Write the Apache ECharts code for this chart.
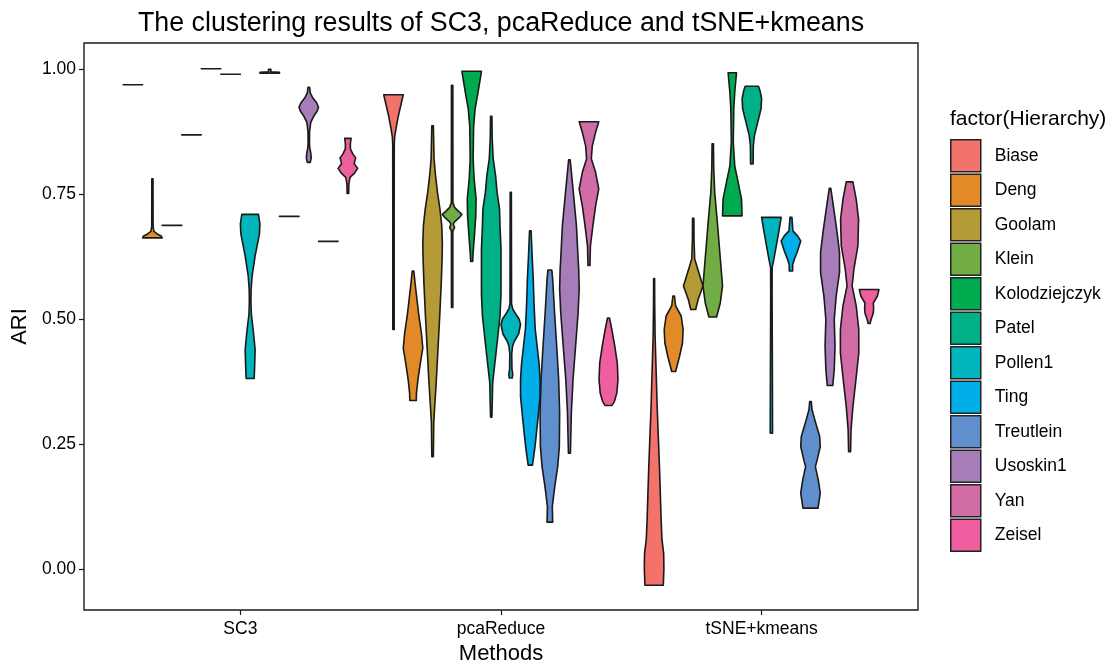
<!DOCTYPE html>
<html>
<head>
<meta charset="utf-8">
<script src="https://cdn.jsdelivr.net/npm/echarts@6/dist/echarts.min.js"></script>
<style>
  html, body { margin: 0; padding: 0; background: #fff; }
  #chart { width: 1113px; height: 665px; }
</style>
</head>
<body>
<div id="chart"></div>
<script>
// categories
var methods = ['SC3', 'pcaReduce', 'tSNE+kmeans'];
var hierarchies = ['Biase', 'Deng', 'Goolam', 'Klein', 'Kolodziejczyk', 'Patel',
  'Pollen1', 'Ting', 'Treutlein', 'Usoskin1', 'Yan', 'Zeisel'];
var colors = ['#F4726C', '#E38A28', '#B49B35', '#72AC45', '#00AB4F', '#00B087',
  '#00B5BB', '#00AEE8', '#608FCD', '#A67CB9', '#D16CA7', '#EF5E9F'];
var yTicks = [0, 0.25, 0.5, 0.75, 1];

// violin profiles: [ARI, relative width], bottom to top
var sc3Violins = [
  [[0.968, 1], [0.968, 1]],
  [[0.662, 1.0], [0.666, 0.9], [0.670, 0.5], [0.675, 0.15], [0.685, 0.07], [0.78, 0.06]],
  [[0.687, 1], [0.687, 1]],
  [[0.868, 1], [0.868, 1]],
  [[1.0, 1], [1.0, 1]],
  [[0.989, 1], [0.989, 1]],
  [[0.381, 0.41], [0.405, 0.46], [0.439, 0.51], [0.479, 0.31], [0.51, 0.12], [0.535, 0.08], [0.56, 0.1], [0.586, 0.2], [0.626, 0.51], [0.67, 0.95], [0.69, 1.0], [0.709, 0.85]],
  [[0.991, 1], [0.993, 1], [0.994, 0.12], [0.999, 0.12]],
  [[0.705, 1], [0.705, 1]],
  [[0.813, 0.15], [0.822, 0.25], [0.832, 0.2], [0.842, 0.1], [0.85, 0.07], [0.875, 0.08], [0.893, 0.2], [0.905, 0.5], [0.915, 0.85], [0.923, 1.0], [0.932, 0.8], [0.942, 0.4], [0.952, 0.15], [0.963, 0.08]],
  [[0.655, 1], [0.655, 1]],
  [[0.751, 0.08], [0.77, 0.1], [0.783, 0.22], [0.792, 0.7], [0.801, 1.0], [0.81, 0.65], [0.815, 0.7], [0.822, 0.8], [0.83, 0.5], [0.84, 0.26], [0.85, 0.25], [0.861, 0.33]]
];
var pcaViolins = [
  [[0.479, 0.07], [0.7, 0.07], [0.85, 0.08], [0.864, 0.12], [0.88, 0.25], [0.906, 0.5], [0.933, 0.82], [0.948, 1.0]],
  [[0.337, 0.33], [0.352, 0.35], [0.379, 0.5], [0.412, 0.75], [0.442, 1.0], [0.473, 0.85], [0.506, 0.6], [0.539, 0.4], [0.573, 0.2], [0.596, 0.08]],
  [[0.225, 0.08], [0.293, 0.12], [0.319, 0.2], [0.373, 0.37], [0.439, 0.55], [0.506, 0.73], [0.573, 0.89], [0.619, 0.97], [0.65, 1.0], [0.686, 0.94], [0.72, 0.75], [0.753, 0.5], [0.79, 0.28], [0.82, 0.15], [0.886, 0.08]],
  [[0.523, 0.07], [0.675, 0.07], [0.683, 0.25], [0.69, 0.12], [0.695, 0.3], [0.702, 0.7], [0.709, 1.0], [0.716, 0.6], [0.723, 0.25], [0.732, 0.08], [0.967, 0.07]],
  [[0.615, 0.1], [0.633, 0.15], [0.666, 0.28], [0.706, 0.42], [0.74, 0.45], [0.78, 0.25], [0.82, 0.15], [0.886, 0.2], [0.92, 0.35], [0.953, 0.65], [0.995, 1.0]],
  [[0.304, 0.07], [0.373, 0.15], [0.439, 0.53], [0.506, 0.9], [0.55, 1.0], [0.6, 1.0], [0.64, 1.0], [0.686, 0.9], [0.72, 0.85], [0.753, 0.6], [0.786, 0.45], [0.82, 0.2], [0.86, 0.1], [0.905, 0.07]],
  [[0.382, 0.15], [0.39, 0.2], [0.40, 0.12], [0.43, 0.1], [0.445, 0.18], [0.455, 0.35], [0.47, 0.8], [0.489, 1.0], [0.50, 0.85], [0.51, 0.5], [0.52, 0.2], [0.53, 0.08], [0.753, 0.06]],
  [[0.208, 0.22], [0.245, 0.48], [0.299, 0.77], [0.345, 1.0], [0.379, 1.0], [0.41, 0.9], [0.445, 0.7], [0.48, 0.5], [0.53, 0.38], [0.579, 0.3], [0.62, 0.2], [0.676, 0.08]],
  [[0.094, 0.29], [0.125, 0.25], [0.165, 0.5], [0.205, 0.8], [0.245, 0.97], [0.313, 1.0], [0.379, 0.9], [0.445, 0.7], [0.513, 0.48], [0.579, 0.29], [0.598, 0.2]],
  [[0.232, 0.1], [0.313, 0.2], [0.379, 0.37], [0.445, 0.63], [0.513, 0.89], [0.56, 1.0], [0.6, 0.95], [0.62, 0.89], [0.686, 0.72], [0.753, 0.4], [0.818, 0.08]],
  [[0.607, 0.1], [0.646, 0.15], [0.686, 0.4], [0.726, 0.68], [0.76, 1.0], [0.793, 0.68], [0.82, 0.24], [0.846, 0.34], [0.873, 0.68], [0.894, 1.0]],
  [[0.327, 0.34], [0.335, 0.6], [0.352, 0.85], [0.379, 0.97], [0.412, 0.9], [0.445, 0.65], [0.479, 0.34], [0.502, 0.1]]
];
var tsneViolins = [
  [[-0.032, 0.94], [0.0, 1.0], [0.031, 0.98], [0.06, 0.8], [0.098, 0.72], [0.198, 0.56], [0.3, 0.36], [0.332, 0.3], [0.4, 0.2], [0.466, 0.1], [0.53, 0.06], [0.581, 0.05]],
  [[0.395, 0.2], [0.425, 0.6], [0.452, 0.9], [0.479, 0.97], [0.506, 0.77], [0.526, 0.2], [0.546, 0.08]],
  [[0.519, 0.25], [0.539, 0.5], [0.566, 1.0], [0.593, 0.57], [0.62, 0.15], [0.66, 0.08], [0.701, 0.07]],
  [[0.504, 0.39], [0.532, 0.77], [0.566, 1.0], [0.619, 0.78], [0.686, 0.5], [0.753, 0.2], [0.8, 0.1], [0.85, 0.07]],
  [[0.706, 1.0], [0.74, 0.94], [0.773, 0.6], [0.806, 0.25], [0.853, 0.1], [0.92, 0.15], [0.953, 0.25], [0.992, 0.43]],
  [[0.81, 0.13], [0.846, 0.15], [0.866, 0.26], [0.893, 0.6], [0.92, 0.94], [0.94, 1.0], [0.955, 0.85], [0.965, 0.68]],
  [[0.272, 0.12], [0.4, 0.1], [0.55, 0.07], [0.603, 0.08], [0.619, 0.25], [0.646, 0.5], [0.679, 0.8], [0.703, 1.0]],
  [[0.596, 0.17], [0.609, 0.18], [0.619, 0.34], [0.636, 0.68], [0.656, 1.0], [0.666, 0.68], [0.676, 0.2], [0.703, 0.1]],
  [[0.122, 0.77], [0.152, 1.0], [0.178, 0.8], [0.205, 0.5], [0.218, 0.68], [0.245, 1.0], [0.265, 0.94], [0.299, 0.43], [0.319, 0.15], [0.335, 0.08]],
  [[0.367, 0.28], [0.399, 0.43], [0.445, 0.51], [0.499, 0.43], [0.546, 0.63], [0.593, 0.97], [0.633, 0.97], [0.679, 0.68], [0.726, 0.34], [0.761, 0.08]],
  [[0.235, 0.1], [0.279, 0.15], [0.325, 0.34], [0.379, 0.65], [0.432, 0.94], [0.479, 0.94], [0.526, 0.68], [0.566, 0.26], [0.599, 0.44], [0.646, 0.85], [0.699, 0.92], [0.739, 0.68], [0.774, 0.34]],
  [[0.491, 0.1], [0.499, 0.2], [0.512, 0.43], [0.522, 0.46], [0.532, 0.43], [0.546, 0.85], [0.559, 1.0]]
];
var allViolins = [sc3Violins, pcaViolins, tsneViolins];

var dodge = 0.9 / hierarchies.length;
var font = '"Liberation Sans", Arial, Helvetica, sans-serif';

var chart = echarts.init(document.getElementById('chart'));

var series = hierarchies.map(function (name, h) {
  return {
    name: name,
    type: 'custom',
    itemStyle: { color: colors[h] },
    data: methods.map(function (m, i) { return [i + 1, 0.5]; }),
    renderItem: function (params, api) {
      var m = api.value(0);
      var prof = allViolins[m - 1][h];
      // dodged x centre for this hierarchy
      var xc = m - 0.45 + dodge * (h + 0.5);
      var half = dodge / 2;
      var left = prof.map(function (p) { return api.coord([xc - p[1] * half, p[0]]); });
      var right = prof.slice().reverse().map(function (p) { return api.coord([xc + p[1] * half, p[0]]); });
      return {
        type: 'polygon',
        shape: { points: left.concat(right) },
        style: { fill: colors[h], stroke: '#1a1a1a', lineWidth: 1.6, lineJoin: 'round' }
      };
    }
  };
});

chart.setOption({
  animation: false,
  title: [{
    text: 'The clustering results of SC3, pcaReduce and tSNE+kmeans',
    left: 496, top: 5, textAlign: 'center',
    textStyle: { fontFamily: font, fontSize: 26.8, fontWeight: 'normal', color: '#000' }
  }, {
    text: 'factor(Hierarchy)',
    left: 945, top: 104,
    textStyle: { fontFamily: font, fontSize: 21, fontWeight: 'normal', color: '#000' }
  }],
  legend: {
    orient: 'vertical',
    left: 945, top: 134,
    icon: 'rect',
    itemWidth: 30, itemHeight: 32, itemGap: 1,
    itemStyle: { borderColor: '#222', borderWidth: 1.5 },
    textStyle: { fontFamily: font, fontSize: 17.5, lineHeight: 20, color: '#000', padding: [0, 0, 0, 9] },
    data: hierarchies
  },
  grid: {
    left: 84, right: 195, top: 43, bottom: 55,
    outerBoundsMode: 'none',
    show: true, borderColor: '#1a1a1a', borderWidth: 1.4, backgroundColor: '#fff'
  },
  xAxis: {
    type: 'value', min: 0.4, max: 3.6,
    name: 'Methods', nameLocation: 'middle', nameGap: 33,
    nameTextStyle: { fontFamily: font, fontSize: 22, color: '#000' },
    splitLine: { show: false },
    axisLine: { show: false, onZero: false },
    axisTick: { show: true, length: 5, customValues: [1, 2, 3], lineStyle: { color: '#1a1a1a', width: 1.2 } },
    axisLabel: {
      customValues: [1, 2, 3], margin: 10,
      fontFamily: font, fontSize: 17.5, color: '#000',
      formatter: function (v) { return methods[Math.round(v) - 1]; }
    }
  },
  yAxis: {
    type: 'value', min: -0.0815, max: 1.0515,
    name: 'ARI', nameLocation: 'middle', nameGap: 51,
    nameTextStyle: { fontFamily: font, fontSize: 22, color: '#000' },
    splitLine: { show: false },
    axisLine: { show: false, onZero: false },
    axisTick: { show: true, length: 5, customValues: yTicks, lineStyle: { color: '#1a1a1a', width: 1.2 } },
    axisLabel: {
      customValues: yTicks, margin: 8,
      fontFamily: font, fontSize: 17.5, color: '#000',
      formatter: function (v) { return v.toFixed(2); }
    }
  },
  series: series
});
</script>
</body>
</html>
